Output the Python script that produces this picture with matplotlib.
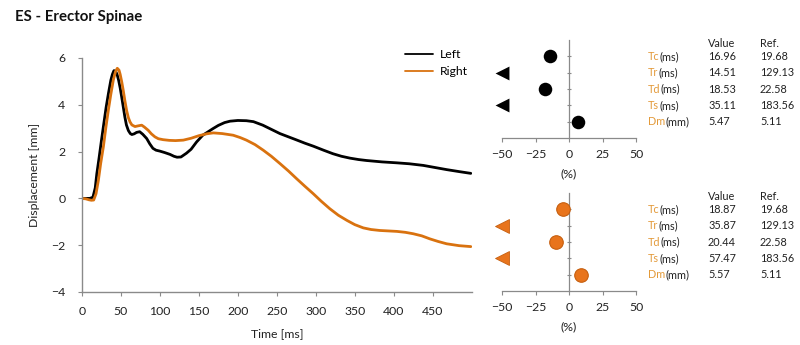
import matplotlib
matplotlib.use("Agg")
import matplotlib.pyplot as plt
import matplotlib.transforms as mtransforms
import numpy as np

plt.rcParams['font.family'] = ['Lato', 'DejaVu Sans']

# ---- displacement curves (time in ms, displacement in mm) ----
time_left = [0, 5, 10, 14, 17, 19, 22, 25, 28, 31, 34, 37, 39, 41, 43, 45, 47, 49, 51, 53,
             55, 57, 59.5, 62, 64, 67, 70, 74, 78, 83, 87, 91, 95, 100, 106, 113, 118, 122,
             127, 134, 140, 147, 155, 162, 168, 175, 183, 190, 200, 211, 220, 232, 243, 254,
             265, 276, 286, 297, 310, 322, 333, 344, 355, 365, 385, 404, 420, 438, 453, 468,
             485, 499]
disp_left = [0.0, 0.0, 0.0, 0.05, 0.45, 1.05, 1.75, 2.49, 3.2, 3.9, 4.5, 5.05, 5.3, 5.46,
             5.44, 5.3, 5.05, 4.72, 4.32, 3.9, 3.48, 3.14, 2.9, 2.77, 2.73, 2.76, 2.82, 2.85,
             2.74, 2.56, 2.33, 2.14, 2.06, 2.02, 1.96, 1.88, 1.80, 1.76, 1.77, 1.93, 2.1, 2.41,
             2.7, 2.85, 2.98, 3.12, 3.24, 3.3, 3.33, 3.32, 3.28, 3.13, 2.95, 2.77, 2.63, 2.49,
             2.36, 2.23, 2.06, 1.91, 1.8, 1.72, 1.66, 1.62, 1.56, 1.52, 1.48, 1.41, 1.32, 1.23,
             1.14, 1.07]

time_right = [0, 5, 9, 12, 15, 18, 21, 24, 27.4, 30.5, 33.8, 37, 40.2, 43, 45.3, 47.5, 49,
              51, 53, 55, 57.3, 59.5, 61.6, 64, 68, 72, 76.6, 80, 85, 89, 93.6, 98, 104, 112,
              120, 130, 140, 150, 160, 168.5, 180, 194, 203, 211, 222, 232.6, 243, 254, 265,
              275.5, 286, 296.8, 307, 318, 329, 340, 350, 361, 371, 382, 393, 404, 415, 425,
              436, 446.5, 457, 468, 484, 499]
disp_right = [0.0, -0.02, -0.06, -0.08, -0.07, 0.2, 0.77, 1.5, 2.2, 3.0, 3.77, 4.45, 5.06,
              5.42, 5.56, 5.48, 5.3, 4.98, 4.6, 4.18, 3.75, 3.45, 3.27, 3.14, 3.07, 3.1, 3.13,
              3.05, 2.91, 2.76, 2.63, 2.55, 2.51, 2.48, 2.47, 2.49, 2.57, 2.68, 2.76, 2.8,
              2.77, 2.7, 2.6, 2.49, 2.3, 2.06, 1.8, 1.49, 1.17, 0.84, 0.52, 0.2, -0.12, -0.44,
              -0.72, -0.94, -1.12, -1.26, -1.33, -1.37, -1.39, -1.41, -1.45, -1.51, -1.6,
              -1.73, -1.84, -1.94, -2.02, -2.06]

# ---- TMG parameters ----
param_names = ["Tc", "Tr", "Td", "Ts", "Dm"]
param_units = ["(ms)", "(ms)", "(ms)", "(ms)", "(mm)"]
left_values = [16.96, 14.51, 18.53, 35.11, 5.47]
right_values = [18.87, 35.87, 20.44, 57.47, 5.57]
ref_values = [19.68, 129.13, 22.58, 183.56, 5.11]

x_ticks = [0, 50, 100, 150, 200, 250, 300, 350, 400, 450]
y_ticks = [-4, -2, 0, 2, 4, 6]
pct_ticks = [-50, -25, 0, 25, 50]

BLACK = "#000000"
ORANGE = "#D9720F"
ORANGE_DOT = "#E8741C"
ORANGE_EDGE = "#C65E0E"
LABEL_ORANGE = "#E39A3A"
SPINE = "#8a8a8a"
TEXT = "#222222"

W, H = 800, 345
fig = plt.figure(figsize=(W / 100, H / 100), dpi=100)
renderer = fig.canvas.get_renderer()


def fx(px):
    return px / W


def fy(py):
    return 1 - py / H


fig.text(fx(15), fy(17), "ES - Erector Spinae", fontsize=10.8, fontweight="bold",
         color="#111111", ha="left", va="center")

# ---- main displacement plot ----
ax = fig.add_axes([fx(82), fy(292), fx(471.6) - fx(82), fy(58) - fy(292)])
ax.plot(time_left, disp_left, color=BLACK, lw=2.0, label="Left", solid_capstyle="round",
        solid_joinstyle="round")
ax.plot(time_right, disp_right, color=ORANGE, lw=2.0, label="Right", solid_capstyle="round",
        solid_joinstyle="round")
ax.set_xlim(0, 500)
ax.set_ylim(-4, 6)
ax.set_xticks(x_ticks)
ax.set_yticks(y_ticks)
for s in ("top", "right"):
    ax.spines[s].set_visible(False)
for s in ("left", "bottom"):
    ax.spines[s].set_color(SPINE)
    ax.spines[s].set_linewidth(1.0)
ax.tick_params(colors=SPINE, labelcolor=TEXT, labelsize=8.8, length=3, width=0.8)
ax.tick_params(axis="x", pad=7)
ax.tick_params(axis="y", pad=9)
ax.set_xlabel("Time [ms]", fontsize=8.8, color=TEXT, labelpad=8)
ax.set_ylabel("Displacement [mm]", fontsize=8.8, color=TEXT, labelpad=8)
leg = ax.legend(loc="upper left", bbox_to_anchor=(0.80, 1.085), frameon=False,
                fontsize=8.8, handlelength=2.3, handletextpad=0.55, labelspacing=0.5)
for h in leg.get_lines():
    h.set_linewidth(1.3)


# ---- deviation plots and parameter tables ----
def pct_panel(y_bottom_px, y_top_px, values, face, edge):
    pax = fig.add_axes([fx(502), fy(y_bottom_px), fx(636) - fx(502),
                        fy(y_top_px) - fy(y_bottom_px)])
    pax.set_xlim(-50, 50)
    pax.set_ylim(0, 6)
    pax.spines["top"].set_visible(False)
    pax.spines["right"].set_visible(False)
    pax.spines["left"].set_position(("data", 0))
    for s in ("left", "bottom"):
        pax.spines[s].set_color(SPINE)
        pax.spines[s].set_linewidth(0.9)
    pax.set_xticks(pct_ticks)
    pax.set_yticks([1, 2, 3, 4, 5])
    pax.set_yticklabels([])
    pax.tick_params(axis="x", colors=SPINE, labelcolor=TEXT, labelsize=8.8, length=3,
                    width=0.8, pad=5)
    pax.tick_params(axis="y", colors=SPINE, length=3, width=0.8, direction="inout")
    pax.set_xlabel("(%)", fontsize=8.8, color=TEXT, labelpad=6)

    rows = np.arange(len(param_names), 0, -1)
    dev = [(v - r) / r * 100 for v, r in zip(values, ref_values)]
    for y, d in zip(rows, dev):
        if d < -50:
            pax.scatter([-50], [y], marker="<", s=100, color=face, edgecolors=edge,
                        linewidths=0.6 if face != BLACK else 0, clip_on=False, zorder=3)
        else:
            pax.scatter([d], [y], marker="o", s=95, color=face, edgecolors=edge,
                        linewidths=0.8 if face != BLACK else 0, clip_on=False, zorder=3)

    tr = mtransforms.blended_transform_factory(fig.transFigure, pax.transData)
    fs = 7.8
    fig.text(fx(708), 5.6, "Value", transform=tr, fontsize=fs, color=TEXT, va="baseline")
    fig.text(fx(760), 5.6, "Ref.", transform=tr, fontsize=fs, color=TEXT, va="baseline")
    for y, name, unit, v, r in zip(rows - 0.22, param_names, param_units, values, ref_values):
        t = fig.text(fx(648), y, name, transform=tr, fontsize=fs, color=LABEL_ORANGE,
                     va="baseline")
        wpx = t.get_window_extent(renderer).width
        fig.text(fx(648), y, unit, fontsize=fs, color=TEXT, va="baseline",
                 transform=mtransforms.offset_copy(tr, fig=fig, x=wpx * 72 / 100,
                                                   y=0, units="points"))
        fig.text(fx(708), y, f"{v:.2f}", transform=tr, fontsize=fs, color=TEXT, va="baseline")
        fig.text(fx(760), y, f"{r:.2f}", transform=tr, fontsize=fs, color=TEXT, va="baseline")
    return pax


pct_panel(138, 40, left_values, BLACK, BLACK)
pct_panel(291, 193, right_values, ORANGE_DOT, ORANGE_EDGE)

fig.savefig("out.png", dpi=100)
